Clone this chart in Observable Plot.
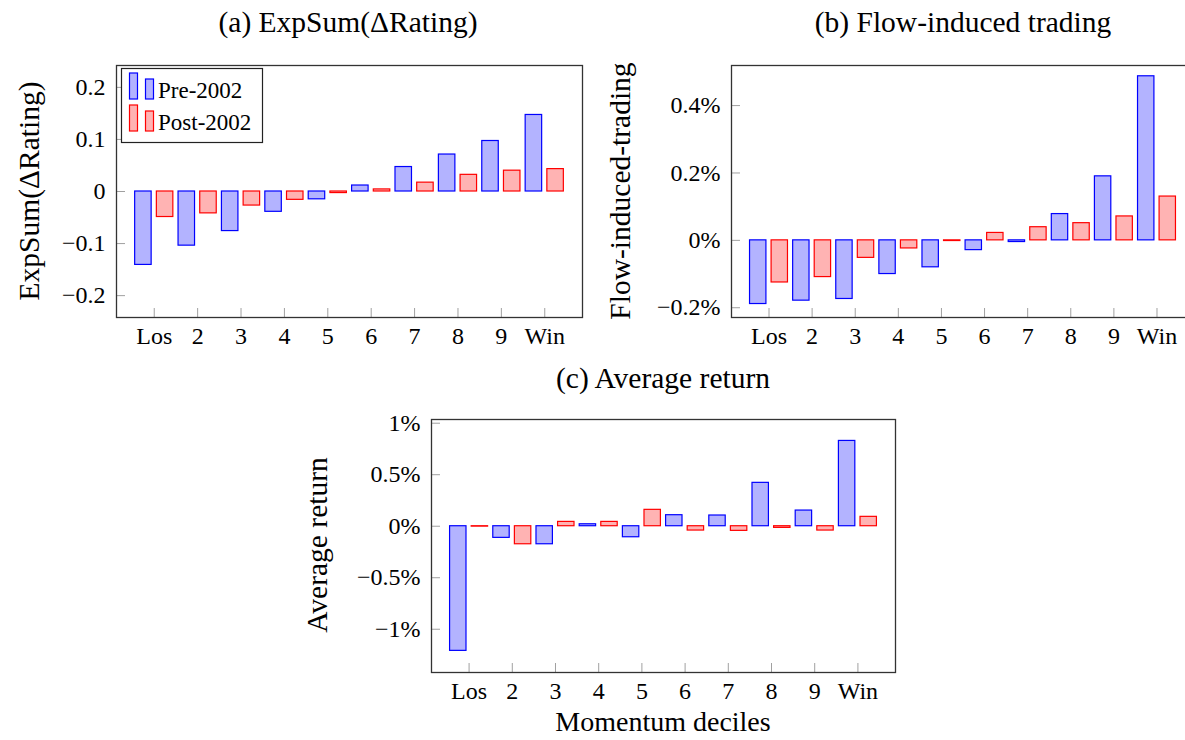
<!DOCTYPE html>
<html><head><meta charset="utf-8">
<script src="https://cdn.jsdelivr.net/npm/d3@7"></script>
<script src="https://cdn.jsdelivr.net/npm/@observablehq/plot@0.6"></script>
<style>
html,body{margin:0;padding:0;overflow:hidden;background:#fff;}
#root{position:relative;width:1185px;height:740px;overflow:hidden;}
#root svg{position:absolute;overflow:visible;}
#root, #root svg, #root svg text{font-family:'Liberation Serif','Times New Roman',Tinos,Times,'DejaVu Serif',serif !important;}
</style></head><body><div id="root"></div>
<script>
// ---- data ----
const deciles = ["Los","2","3","4","5","6","7","8","9","Win"];
const seriesNames = ["Pre-2002","Post-2002"];
const ratingPre  = [-0.141,-0.104,-0.076,-0.039,-0.015,0.0115,0.047,0.071,0.097,0.147];
const ratingPost = [-0.049,-0.042,-0.027,-0.016,-0.003,0.004,0.017,0.032,0.040,0.043];
const flowPre    = [-0.189,-0.179,-0.174,-0.100,-0.080,-0.029,-0.005,0.078,0.190,0.487];
const flowPost   = [-0.125,-0.109,-0.052,-0.024,-0.002,0.022,0.039,0.051,0.071,0.130];
const returnPre  = [-1.21,-0.113,-0.175,0.019,-0.107,0.107,0.104,0.421,0.152,0.828];
const returnPost = [-0.004,-0.175,0.042,0.042,0.159,-0.042,-0.045,-0.016,-0.042,0.091];
const ratingTicks = [-0.2,-0.1,0,0.1,0.2];
const flowTicks   = [-0.2,0,0.2,0.4];
const returnTicks = [-1,-0.5,0,0.5,1];
const titles = ["(a) ExpSum(\u0394Rating)","(b) Flow-induced trading","(c) Average return"];
const yLabels = ["ExpSum(\u0394Rating)","Flow-induced-trading","Average return"];
const xLabel = "Momentum deciles";

const FONT = "'Liberation Serif','Times New Roman',Tinos,Times,'DejaVu Serif',serif";
const minus = s => s.replace("-", "\u2212");
const fmtRating = v => minus(v === 0 ? "0" : String(v));
const fmtPct = v => minus((v === 0 ? "0" : String(v)) + "%");

const BLUE_FILL = "#b3b3ff", RED_FILL = "#ffb3b3";
const root = document.getElementById("root");

function panel({pre, post, domain, ticks, fmt, left, top, width, height, mL, mR, mT, mB}) {
  const data = deciles.map((d, i) => ({i: i + 1, pre: pre[i], post: post[i]}));
  const idx = d3.range(1, deciles.length + 1);
  const svg = Plot.plot({
    width, height,
    marginLeft: mL, marginRight: mR, marginTop: mT, marginBottom: mB,
    x: {type: "linear", domain: [0.13, 10.87]},
    y: {domain},
    style: {fontFamily: FONT, fontSize: "24px", background: "transparent", color: "black", overflow: "visible"},
    marks: [
      Plot.rectY(data, {x1: d => d.i - 0.44, x2: d => d.i - 0.06, y1: 0, y2: "pre", fill: BLUE_FILL, stroke: "blue", strokeWidth: 1.2}),
      Plot.rectY(data, {x1: d => d.i + 0.06, x2: d => d.i + 0.44, y1: 0, y2: "post", fill: RED_FILL, stroke: "red", strokeWidth: 1.2}),
      Plot.axisY(ticks, {anchor: "left", tickSize: 9, dx: 9, stroke: "#a0a0a0", tickFormat: () => "", label: null}),
      Plot.axisY(ticks, {anchor: "left", tickSize: 0, tickPadding: 11, tickFormat: fmt, label: null, fill: "black"}),
      Plot.axisX(idx, {anchor: "bottom", tickSize: 9, dy: -9, stroke: "#a0a0a0", tickFormat: () => "", label: null}),
      Plot.axisX(idx, {anchor: "bottom", tickSize: 0, tickPadding: 9, tickFormat: i => deciles[i - 1], label: null, fill: "black"}),
      Plot.frame({stroke: "#333", strokeWidth: 1.3})
    ]
  });
  svg.style.left = left + "px";
  svg.style.top = top + "px";
  root.appendChild(svg);
}

panel({pre: ratingPre, post: ratingPost, domain: [-0.242, 0.242], ticks: ratingTicks, fmt: fmtRating,
  left: 0, top: 0, width: 590, height: 360, mL: 116, mR: 8, mT: 65, mB: 43});
panel({pre: flowPre, post: flowPost, domain: [-0.229, 0.519], ticks: flowTicks, fmt: fmtPct,
  left: 590, top: 0, width: 614, height: 360, mL: 141, mR: 10, mT: 65, mB: 43});
panel({pre: returnPre, post: returnPost, domain: [-1.42, 1.036], ticks: returnTicks, fmt: fmtPct,
  left: 300, top: 360, width: 600, height: 380, mL: 131, mR: 5, mT: 59, mB: 68});

// ---- overlay: titles, axis labels, legend ----
const ov = d3.create("svg").attr("width", 1185).attr("height", 740)
  .style("left", "0px").style("top", "0px")
  .style("font-family", FONT).attr("fill", "black");
const T = (x, y, s, size, rot) => {
  const t = ov.append("text").attr("text-anchor", "middle").attr("font-size", size).text(s);
  if (rot) t.attr("transform", `translate(${x},${y}) rotate(-90)`);
  else t.attr("x", x).attr("y", y);
  return t;
};
T(348, 32, titles[0], 29.5);
T(963, 32, titles[1], 29.5);
T(663, 388, titles[2], 29.5);
T(663, 731, xLabel, 28);
T(39, 191, yLabels[0], 29.5, true);
T(630, 191, yLabels[1], 29.5, true);
T(327, 545, yLabels[2], 29.5, true);

// legend
const lg = ov.append("g");
lg.append("rect").attr("x", 121.5).attr("y", 68.5).attr("width", 141).attr("height", 74)
  .attr("fill", "white").attr("stroke", "#222").attr("stroke-width", 1.2);
const rows = [{fill: BLUE_FILL, stroke: "blue", y: 99}, {fill: RED_FILL, stroke: "red", y: 131}];
rows.forEach((r, k) => {
  lg.append("rect").attr("x", 129.5).attr("y", r.y - 26).attr("width", 8).attr("height", 26)
    .attr("fill", r.fill).attr("stroke", r.stroke).attr("stroke-width", 1.2);
  lg.append("rect").attr("x", 145.5).attr("y", r.y - 20).attr("width", 8).attr("height", 20)
    .attr("fill", r.fill).attr("stroke", r.stroke).attr("stroke-width", 1.2);
  lg.append("text").attr("x", 158).attr("y", r.y - 1).attr("font-size", 23).text(seriesNames[k]);
});
root.appendChild(ov.node());
</script>
</body></html>
